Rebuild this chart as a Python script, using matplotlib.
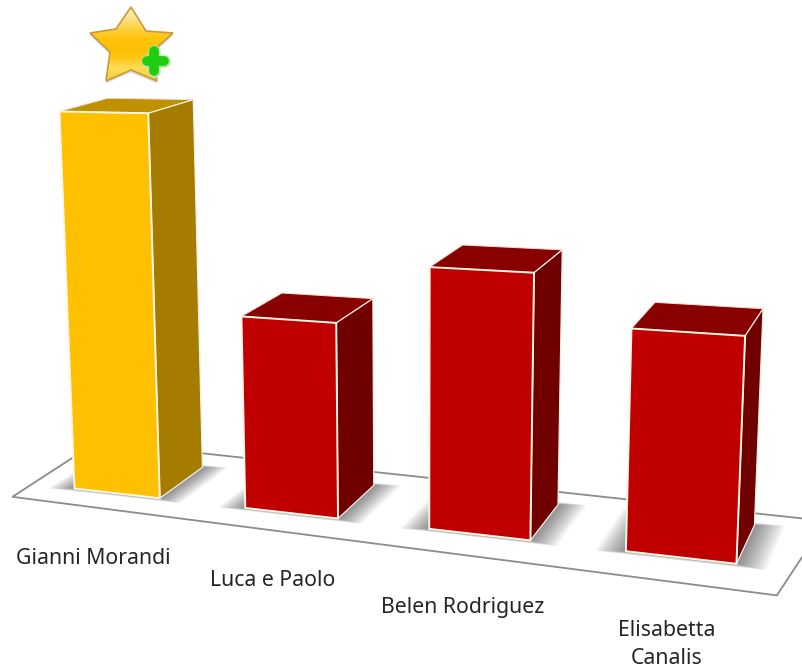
import numpy as np
from matplotlib import pyplot as plt
from matplotlib.patches import Polygon

names = ['Gianni Morandi', 'Luca e Paolo', 'Belen Rodriguez', 'Elisabetta', 'Canalis']
values = [385, 192, 250, 205]
front_cols = ['#ffc000', '#c00000', '#c00000', '#c00000']
side_cols = ['#a67c00', '#700000', '#700000', '#700000']
top_cols = ['#bf9000', '#880000', '#880000', '#880000']
label_px = [(93, 558), (273, 581), (463, 607), (667, 630), (667, 658)]
label_size = 15.3

half_w = 0.28
depth = 0.56

# camera: world point (slot, depth, value) -> picture pixel, fitted on the bar corners
corner_px = [
    [(74, 486), (162, 496), (204, 467), (58, 114), (149, 118), (193, 106), (105, 101)],
    [(247, 508), (339, 519), (376, 483), (243, 314), (338, 322), (374, 300), (284, 291)],
    [(431, 531), (529, 543), (558, 510), (432, 263), (534, 272), (562, 251), (465, 242)],
    [(627, 556), (733, 569), (753, 533), (633, 323), (743, 332), (762, 308), (658, 298)],
]
rows, rhs = [], []
for i, val in enumerate(values):
    x0, x1 = i - half_w, i + half_w
    corners = [(x0, 0, 0), (x1, 0, 0), (x1, depth, 0), (x0, 0, val), (x1, 0, val), (x1, depth, val), (x0, depth, val)]
    for (wx, wy, wz), (u, v) in zip(corners, corner_px[i]):
        rows.append([wx, wy, wz, 1, 0, 0, 0, 0, -u * wx, -u * wy, -u * wz])
        rows.append([0, 0, 0, 0, wx, wy, wz, 1, -v * wx, -v * wy, -v * wz])
        rhs += [u, v]
rows = np.array(rows)
scale_row = np.abs(rows).max(axis=0)
sol = np.linalg.lstsq(rows / scale_row, np.array(rhs, dtype=float), rcond=None)[0] / scale_row
cam = np.append(sol, 1.0).reshape(3, 4)


def project(pts):
    pts = np.c_[np.array(pts, dtype=float), np.ones(len(pts))]
    q = pts @ cam.T
    return q[:, :2] / q[:, 2:]


fig = plt.figure(figsize=(8.02, 6.70), dpi=100)
ax = fig.add_axes([0, 0, 1, 1])
ax.set_xlim(0, 802)
ax.set_ylim(670, 0)
ax.axis('off')

# floor
floor = project([(-0.54, -0.24, 0), (3.49, -0.35, 0), (3.58, 0.76, 0), (-0.56, 0.84, 0)])
ax.add_patch(Polygon(floor, closed=True, fc='white', ec='#8c8c8c', lw=1.3))

# drawn a bit narrower than the fit, which comes out too wide
bar_half = 0.26
bar_depth = 0.58
slot_shift = [-0.02, 0, 0.01, 0]

for i, val in enumerate(values):
    x0, x1 = i + slot_shift[i] - bar_half, i + slot_shift[i] + bar_half
    # soft shadow, stacked layers growing outward
    for grow in np.linspace(0.14, 0.0, 14):
        shadow = project([(x0 - grow, -grow * 0.3, 0), (x1 + grow, -grow * 0.3, 0),
                          (x1 + grow, bar_depth + grow * 0.3, 0), (x0 - grow, bar_depth + grow * 0.3, 0)])
        ax.add_patch(Polygon(shadow, closed=True, fc='black', ec='none', alpha=0.04))
    top = project([(x0, 0, val), (x1, 0, val), (x1, bar_depth, val), (x0, bar_depth, val)])
    side = project([(x1, 0, 0), (x1, bar_depth, 0), (x1, bar_depth, val), (x1, 0, val)])
    front = project([(x0, 0, 0), (x1, 0, 0), (x1, 0, val), (x0, 0, val)])
    ax.add_patch(Polygon(top, closed=True, fc=top_cols[i], ec='#f0dcd0', lw=0.7))
    ax.add_patch(Polygon(side, closed=True, fc=side_cols[i], ec='#f4efe6', lw=0.9))
    ax.add_patch(Polygon(front, closed=True, fc=front_cols[i], ec='#fff6e6', lw=1.4))

for name, (px, py) in zip(names, label_px):
    ax.text(px, py, name, ha='center', va='center', fontsize=label_size, color='#262626',
            family=['Noto Sans', 'DejaVu Sans'], weight='medium')

# star badge with plus sign
star_x = [131, 146, 173, 152, 157, 131, 106, 110, 90, 116]
star_y = [7, 31, 33, 52, 81, 70, 81, 52, 33, 29]
shade = Polygon(np.c_[star_x, np.array(star_y) + 2.5], closed=True, fc='#bbbbbb', ec='none', alpha=0.5)
ax.add_patch(shade)
star = Polygon(np.c_[star_x, star_y], closed=True, fc='none', ec='#c99a3c', lw=1.2, zorder=4)
ax.add_patch(star)
grad_cols = np.array([[253, 238, 180], [252, 225, 130], [253, 208, 60], [255, 196, 10],
                      [255, 192, 5], [254, 200, 25], [253, 222, 90], [252, 205, 50]]) / 255
img = ax.imshow(grad_cols.reshape(-1, 1, 3), extent=(88, 175, 83, 5), aspect='auto', interpolation='bilinear', zorder=3)
img.set_clip_path(star)
ax.set_xlim(0, 802)
ax.set_ylim(670, 0)
ax.plot([147, 164], [61, 61], color='#b6e8a8', lw=9, solid_capstyle='round', zorder=5)
ax.plot([154, 154], [51, 71], color='#b6e8a8', lw=9, solid_capstyle='round', zorder=5)
ax.plot([147, 164], [61, 61], color='#22cc11', lw=7, solid_capstyle='round', zorder=6)
ax.plot([154, 154], [51, 71], color='#22cc11', lw=7, solid_capstyle='round', zorder=6)

fig.savefig('out.png', dpi=100)
